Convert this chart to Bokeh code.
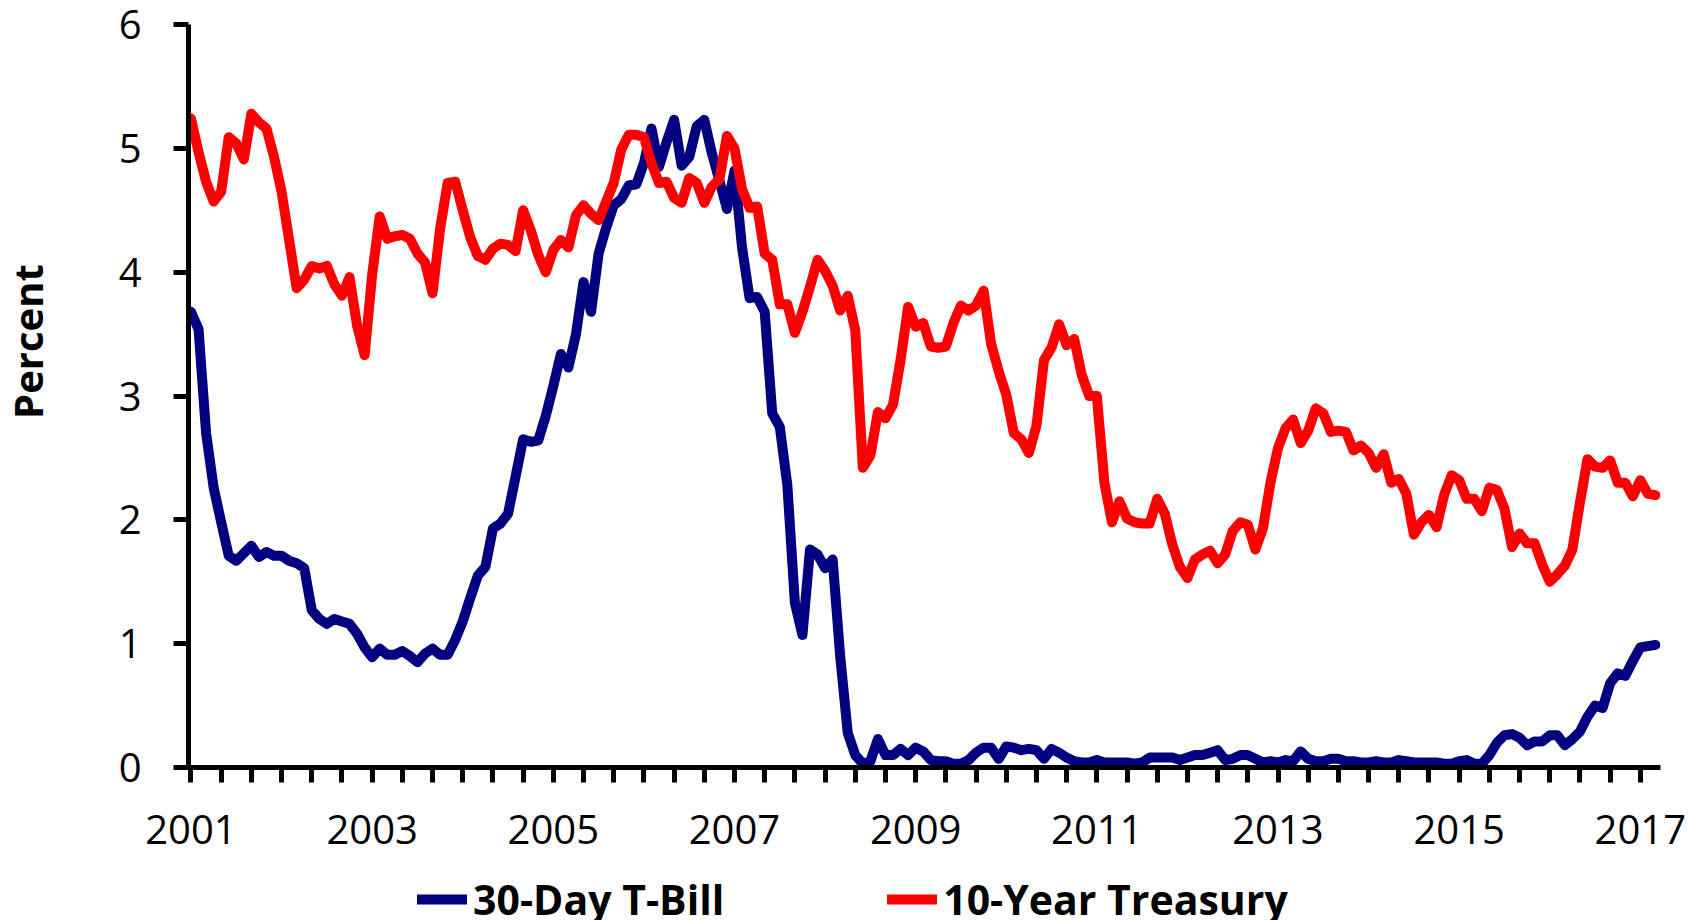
from math import pi
from bokeh.plotting import figure
from bokeh.layouts import column, row
from bokeh.models import Range1d, FixedTicker, Legend, LegendItem, Label, ColumnDataSource
from bokeh.embed import file_html
from bokeh.resources import INLINE

# ---- data (monthly, first point sits at the "2001" label) ----
year_labels = ["2001", "2003", "2005", "2007", "2009", "2011", "2013", "2015", "2017"]
series_names = ["30-Day T-Bill", "10-Year Treasury"]
series_colors = ["#000080", "#FF0000"]
y_title = "Percent"

tbill_30day = [
    3.68, 3.54, 2.70, 2.26, 1.98, 1.71, 1.67, 1.73, 1.79, 1.70, 1.74, 1.71,
    1.71, 1.67, 1.65, 1.61, 1.27, 1.20, 1.16, 1.20, 1.18, 1.16, 1.08, 0.97,
    0.89, 0.96, 0.91, 0.91, 0.94, 0.90, 0.85, 0.92, 0.96, 0.91, 0.91, 1.03,
    1.18, 1.37, 1.55, 1.62, 1.93, 1.97, 2.05, 2.35, 2.65, 2.63, 2.64, 2.84,
    3.08, 3.34, 3.23, 3.50, 3.92, 3.68, 4.15, 4.36, 4.54, 4.59, 4.70, 4.71,
    4.88, 5.16, 4.85, 5.05, 5.23, 4.86, 4.93, 5.18, 5.23, 4.96, 4.74, 4.51,
    4.82, 4.20, 3.79, 3.80, 3.68, 2.86, 2.75, 2.28, 1.33, 1.07, 1.76, 1.72,
    1.61, 1.68, 0.90, 0.28, 0.10, 0.03, 0.05, 0.23, 0.10, 0.10, 0.15, 0.10,
    0.16, 0.13, 0.06, 0.05, 0.05, 0.03, 0.03, 0.06, 0.12, 0.16, 0.16, 0.07,
    0.17, 0.16, 0.14, 0.15, 0.14, 0.07, 0.15, 0.12, 0.08, 0.05, 0.04, 0.04,
    0.06, 0.04, 0.04, 0.04, 0.04, 0.03, 0.04, 0.08, 0.08, 0.08, 0.08, 0.06,
    0.08, 0.10, 0.10, 0.12, 0.14, 0.06, 0.07, 0.10, 0.10, 0.07, 0.04, 0.05,
    0.04, 0.06, 0.05, 0.13, 0.07, 0.05, 0.05, 0.07, 0.07, 0.05, 0.05, 0.04,
    0.04, 0.05, 0.04, 0.04, 0.06, 0.05, 0.04, 0.04, 0.04, 0.04, 0.03, 0.03,
    0.05, 0.06, 0.03, 0.03, 0.10, 0.20, 0.26, 0.27, 0.24, 0.18, 0.21, 0.21,
    0.26, 0.26, 0.18, 0.23, 0.29, 0.41, 0.50, 0.48, 0.68, 0.76, 0.74, 0.86,
    0.97, 0.98, 0.99,
]

treasury_10yr = [
    5.24, 4.97, 4.73, 4.57, 4.65, 5.09,
    5.04, 4.91, 5.28, 5.21, 5.16, 4.93, 4.65, 4.26, 3.87, 3.94, 4.05, 4.03,
    4.05, 3.90, 3.81, 3.96, 3.57, 3.33, 3.98, 4.45, 4.27, 4.29, 4.30, 4.27,
    4.15, 4.08, 3.83, 4.35, 4.72, 4.73, 4.50, 4.28, 4.13, 4.10, 4.19, 4.23,
    4.22, 4.17, 4.50, 4.34, 4.14, 4.00, 4.18, 4.26, 4.20, 4.46, 4.54, 4.47,
    4.42, 4.57, 4.72, 4.99, 5.11, 5.11, 5.09, 4.88, 4.72, 4.73, 4.60, 4.56,
    4.76, 4.72, 4.56, 4.69, 4.75, 5.10, 5.00, 4.67, 4.52, 4.53, 4.15, 4.10,
    3.74, 3.74, 3.51, 3.68, 3.88, 4.10, 4.01, 3.89, 3.69, 3.81, 3.53, 2.42,
    2.52, 2.87, 2.82, 2.93, 3.29, 3.72, 3.56, 3.59, 3.40, 3.39, 3.40, 3.59,
    3.73, 3.69, 3.73, 3.85, 3.42, 3.20, 3.01, 2.70, 2.65, 2.54, 2.76, 3.29,
    3.39, 3.58, 3.41, 3.46, 3.17, 3.00, 3.00, 2.30, 1.98, 2.15, 2.01, 1.98,
    1.97, 1.97, 2.17, 2.05, 1.80, 1.62, 1.53, 1.68, 1.72, 1.75, 1.65, 1.72,
    1.91, 1.98, 1.96, 1.76, 1.93, 2.30, 2.58, 2.74, 2.81, 2.62, 2.72, 2.90,
    2.86, 2.71, 2.72, 2.71, 2.56, 2.60, 2.54, 2.42, 2.53, 2.30, 2.33, 2.21,
    1.88, 1.98, 2.04, 1.94, 2.20, 2.36, 2.32, 2.17, 2.17, 2.07, 2.26, 2.24,
    2.09, 1.78, 1.89, 1.81, 1.81, 1.64, 1.50, 1.56, 1.63, 1.76, 2.14, 2.49,
    2.43, 2.42, 2.48, 2.30, 2.30, 2.19, 2.32, 2.21, 2.20,
]

month_index = list(range(len(tbill_30day)))
source = ColumnDataSource(dict(m=month_index, tbill=tbill_30day, tsy=treasury_10yr))

FONT = "Open Sans"
W_LAB = 70          # strip holding the rotated value-axis title
W_MAIN = 1705 - W_LAB
H_MAIN = 870
H_LEG = 50
TOP = 24
BOTTOM = H_MAIN - 767

# ---- rotated "Percent" title strip ----
lab = figure(width=W_LAB, height=H_MAIN, output_backend="svg", toolbar_location=None,
             x_range=Range1d(0, W_LAB), y_range=Range1d(0, 6),
             x_axis_location=None, y_axis_location=None,
             min_border_left=0, min_border_right=0,
             min_border_top=TOP, min_border_bottom=BOTTOM)
lab.outline_line_color = None
lab.grid.visible = False
lab.add_layout(Label(x=27, y=3.44, text=y_title, angle=pi / 2,
                     text_font=FONT, text_font_style="bold", text_font_size="40px",
                     text_align="center", text_baseline="alphabetic",
                     text_color="black"))

# ---- main chart ----
p = figure(width=W_MAIN, height=H_MAIN, output_backend="svg", toolbar_location=None,
           x_range=Range1d(-0.33, 194.67), y_range=Range1d(0, 6),
           min_border_left=188 - W_LAB, min_border_right=45, min_border_top=TOP,
           min_border_bottom=BOTTOM)
p.outline_line_color = None
p.grid.visible = False

r1 = p.line("m", "tbill", source=source, line_color=series_colors[0], line_width=10,
            line_join="round", line_cap="round")
r2 = p.line("m", "tsy", source=source, line_color=series_colors[1], line_width=10,
            line_join="round", line_cap="round")

# x axis: tick every 4 months, label every 24 months
xt = list(range(0, 195, 4))
p.xaxis.ticker = FixedTicker(ticks=xt)
overrides = {t: "" for t in xt}
for k, lab_txt in enumerate(year_labels):
    overrides[24 * k] = lab_txt
p.xaxis.major_label_overrides = overrides
p.yaxis.ticker = FixedTicker(ticks=[0, 1, 2, 3, 4, 5, 6])

for ax in (p.xaxis, p.yaxis):
    ax.minor_tick_line_color = None
    ax.axis_line_width = 5
    ax.axis_line_color = "black"
    ax.major_tick_line_width = 5
    ax.major_tick_line_color = "black"
    ax.major_tick_out = 15
    ax.major_tick_in = 0
    ax.major_label_text_font = FONT
    ax.major_label_text_font_size = "40px"
    ax.major_label_text_color = "black"
p.xaxis.major_label_standoff = 32
p.yaxis.major_label_standoff = 32

# ---- legend strip below the chart ----
lf = figure(width=W_MAIN, height=H_LEG, output_backend="svg", toolbar_location=None,
            x_range=Range1d(-1000, -999), y_range=Range1d(-1000, -999),
            x_axis_location=None, y_axis_location=None,
            min_border_left=188 - W_LAB, min_border_right=45,
            min_border_top=0, min_border_bottom=0)
lf.outline_line_color = None
lf.grid.visible = False
lr1 = lf.line("m", "tbill", source=source, line_color=series_colors[0], line_width=10,
              line_cap="round")
lr2 = lf.line("m", "tsy", source=source, line_color=series_colors[1], line_width=10,
              line_cap="round")

legend = Legend(items=[LegendItem(label=series_names[0], renderers=[lr1]),
                       LegendItem(label=series_names[1], renderers=[lr2])],
                orientation="horizontal", location=(229, -7),
                glyph_width=50, glyph_height=40, label_standoff=6, spacing=163,
                padding=0, margin=0, border_line_color=None,
                background_fill_alpha=0,
                label_text_font=FONT, label_text_font_style="bold",
                label_text_font_size="41px", label_text_color="black")
lf.add_layout(legend)

layout = row(lab, column(p, lf, spacing=0), spacing=0)
open("out.html", "w").write(file_html(layout, INLINE))
